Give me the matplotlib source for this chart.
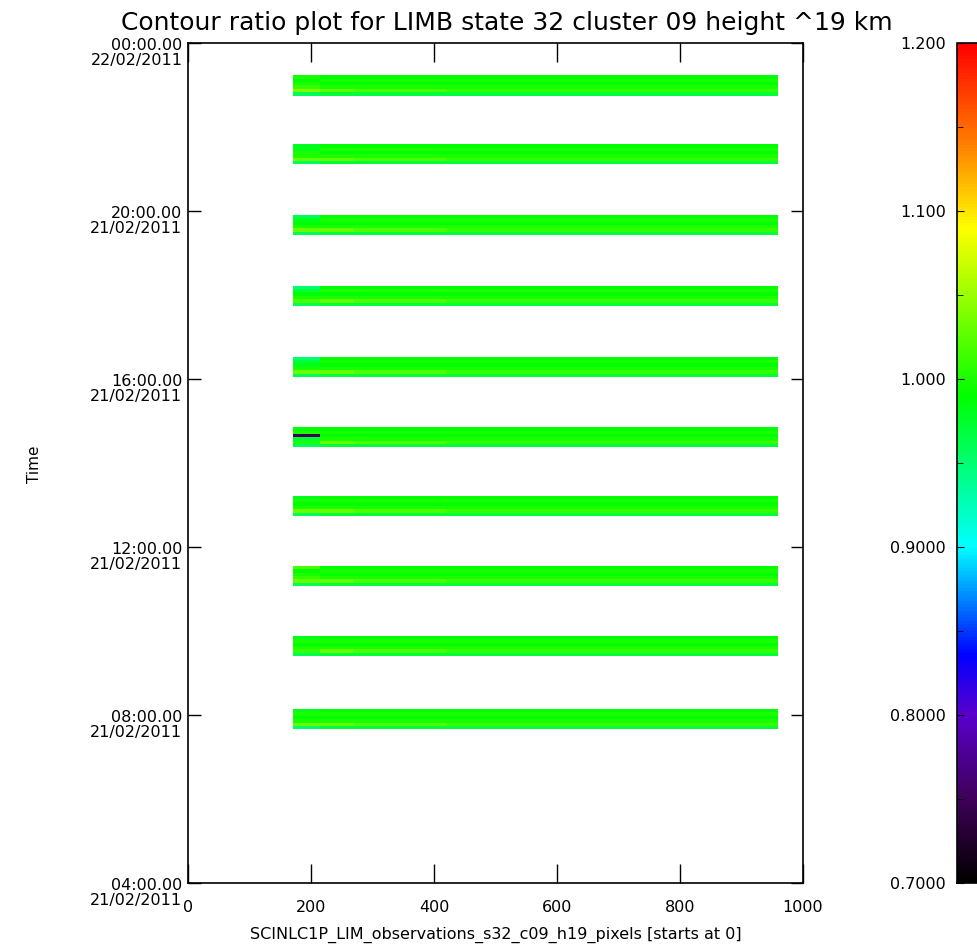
import numpy as np
import matplotlib
matplotlib.use('Agg')
import matplotlib.pyplot as plt
import matplotlib.transforms as mtrans
from matplotlib.colors import LinearSegmentedColormap

# horario central (h) de cada faixa de observacao
band_centers = [22.99, 21.35, 19.67, 17.98, 16.29, 14.61, 12.98, 11.31, 9.64, 7.90]
band_half = 0.24
pixel_edges = [171, 215, 270, 420, 959]

# valores comuns (linhas de baixo para cima, colunas 1..3)
base_rows = [
    [0.97, 0.97, 0.97],
    [1.03, 1.02, 1.01],
    [1.00, 1.00, 1.00],
    [0.99, 0.99, 0.99],
    [1.00, 1.00, 1.00],
    [0.99, 0.99, 0.99],
]

# primeira coluna (inicio de cada faixa), de baixo para cima
left_cols = [
    [0.96, 1.04, 1.01, 1.00, 0.99, 1.00],
    [0.96, 1.03, 1.00, 1.00, 0.98, 0.98],
    [0.96, 1.03, 1.00, 0.99, 0.98, 0.96],
    [0.96, 1.02, 1.00, 0.99, 0.97, 0.95],
    [0.96, 1.03, 1.00, 0.98, 0.97, 0.95],
    [0.96, 1.00, 0.97, 0.745, 1.00, 0.99],
    [0.96, 1.03, 1.00, 0.99, 1.00, 0.98],
    [0.96, 1.03, 1.01, 1.00, 0.99, 1.02],
    [0.96, 1.01, 1.00, 0.99, 1.00, 0.98],
    [0.95, 1.03, 1.00, 0.99, 1.00, 0.98],
]

hour_ticks = [4, 8, 12, 16, 20, 24]
hour_labels = ['04:00.00\n21/02/2011', '08:00.00\n21/02/2011', '12:00.00\n21/02/2011',
               '16:00.00\n21/02/2011', '20:00.00\n21/02/2011', '00:00.00\n22/02/2011']
x_ticks = [0, 200, 400, 600, 800, 1000]
cb_ticks = [0.7, 0.8, 0.9, 1.0, 1.1, 1.2]
cb_labels = ['0.7000', '0.8000', '0.9000', '1.000', '1.100', '1.200']

cmap = LinearSegmentedColormap.from_list('idl_rainbow', [
    (0.00, (0.0, 0.0, 0.0)),
    (0.10, (0.25, 0.0, 0.35)),
    (0.20, (0.35, 0.0, 0.80)),
    (0.27, (0.0, 0.0, 1.0)),
    (0.40, (0.0, 1.0, 1.0)),
    (0.58, (0.0, 1.0, 0.0)),
    (0.78, (1.0, 1.0, 0.0)),
    (0.88, (1.0, 0.5, 0.0)),
    (1.00, (1.0, 0.0, 0.0)),
])

fig = plt.figure(figsize=(9.78, 9.51), dpi=100)
ax = fig.add_axes([188 / 978, 1 - 883 / 951, 615 / 978, 840 / 951])

for i, c in enumerate(band_centers):
    vals = np.array([[left_cols[i][r]] + base_rows[r] for r in range(len(base_rows))])
    t_edges = np.linspace(c - band_half, c + band_half, len(base_rows) + 1)
    mesh = ax.pcolormesh(pixel_edges, t_edges, vals, cmap=cmap, vmin=0.7, vmax=1.2,
                         shading='flat')

ax.set_xlim(0, 1000)
ax.set_ylim(4, 24)
ax.set_xticks(x_ticks)
ax.set_yticks(hour_ticks)
ax.set_yticklabels(hour_labels, fontsize=11.5, linespacing=0.95)
ax.tick_params(axis='x', direction='in', length=14, width=1, top=True, pad=12, labelsize=11.5)
ax.tick_params(axis='y', direction='in', length=9, width=1, right=True, pad=4)
off = mtrans.ScaledTranslation(0, 3.5 / 72, fig.dpi_scale_trans)
for lab in ax.get_yticklabels():
    lab.set_verticalalignment('top')
    lab.set_transform(lab.get_transform() + off)
for sp in ax.spines.values():
    sp.set_linewidth(1.2)

ax.set_xlabel('SCINLC1P_LIM_observations_s32_c09_h19_pixels [starts at 0]', fontsize=11.5, labelpad=9)
fig.text(0.035, 0.512, 'Time', rotation=90, ha='center', va='center', fontsize=11)
fig.text(0.518, 0.976, 'Contour ratio plot for LIMB state 32 cluster 09 height ^19 km',
         ha='center', va='center', fontsize=18)

cax = fig.add_axes([957 / 978, 1 - 883 / 951, 0.04, 840 / 951])
cb = fig.colorbar(mesh, cax=cax)
cb.outline.set_linewidth(1.2)
cb.set_ticks(cb_ticks)
cb.set_ticklabels(cb_labels)
cb.ax.set_yticks([0.75, 0.85, 0.95, 1.05, 1.15], minor=True)
cb.ax.yaxis.set_ticks_position('left')
cb.ax.yaxis.set_label_position('left')
cb.ax.tick_params(which='major', direction='in', length=5, labelsize=11.5, pad=8)
cb.ax.tick_params(which='minor', direction='in', length=4)

fig.savefig('out.png', dpi=100)
